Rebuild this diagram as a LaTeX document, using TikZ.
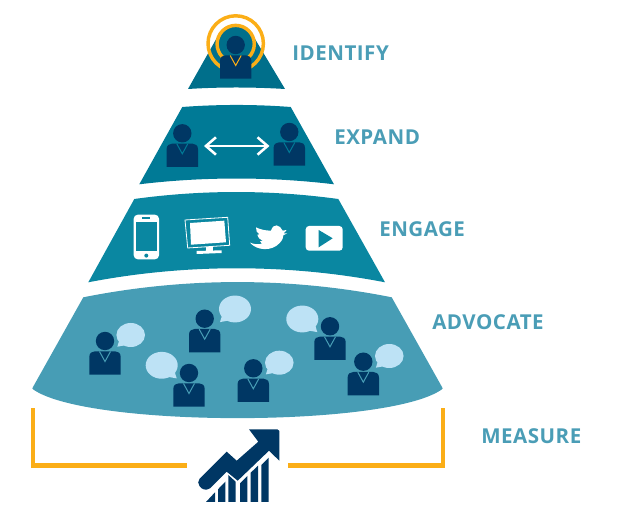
\documentclass[tikz,border=0pt]{standalone}
\usepackage{fontspec}
\usetikzlibrary{arrows.meta}
\newfontfamily\labfont[LetterSpace=2.5]{Open Sans}
\definecolor{navy}{HTML}{003764}
\definecolor{orangeb}{HTML}{FBAE17}
\definecolor{labc}{HTML}{4A9DB6}
\definecolor{tA}{HTML}{006F8B}
\definecolor{tB}{HTML}{007A96}
\definecolor{tC}{HTML}{0A87A1}
\definecolor{tD}{HTML}{479DB5}
\definecolor{bub}{HTML}{BDE2F5}
\tikzset{
  stagelabel/.style={anchor=west,inner sep=0pt,text=labc,font=\labfont\bfseries\fontsize{15.4}{17}\selectfont},
  ring/.style={draw=orangeb,line width=2.6pt},
  bracket/.style={draw=orangeb,line width=3.3pt,miter limit=10},
  iconwhite/.style={fill=white}
}
\newcommand\personfig[3]{%
  \begin{scope}[shift={(#1,#2)}]
    \fill[navy] (0,0) circle[radius=9.2];
    \fill[navy] (-15.7,33.7) -- (-15.7,16) .. controls (-15.7,12) and (-13,10.3) .. (-10,10.3)
      -- (10,10.3) .. controls (13,10.3) and (15.7,12) .. (15.7,16) -- (15.7,33.7) -- cycle;
    \draw[#3,line width=0.75pt] (-5.5,10.5) -- (0,20.5) -- (5.5,10.5);
  \end{scope}}
\newcommand\bubblefig[4]{%
  \begin{scope}[shift={(#1,#2)},xscale=#3*#4,yscale=#3]
    \fill[bub] (0,0) ellipse[x radius=14.3,y radius=12];
    \fill[bub] (-11,4) -- (-13.4,11.7) -- (-4,10) -- cycle;
  \end{scope}}
\begin{document}
\begin{tikzpicture}[x=0.75pt,y=-0.75pt]
\useasboundingbox (0,0) rectangle (619,516);
% tiers
\fill[tA] (188,89) -- (219,34) -- (252,34) -- (285,89) .. controls (252,87) and (220,87) .. (188,89) -- cycle;
\fill[tA] (235.7,44) circle[radius=19];
\fill[tB] (182.3,107) .. controls (218,104.3) and (255,104.3) .. (290.7,107) -- (334,184.3)
  .. controls (270,176.6) and (203,176.6) .. (139.3,184.3) -- cycle;
\fill[tC] (134.3,199) .. controls (202,189.7) and (270,189.7) .. (338.3,199) -- (385,282.3)
  .. controls (288,263.6) and (185,263.6) .. (88.3,282.3) -- cycle;
\fill[tD] (83.3,297.3) .. controls (185,277) and (290,277) .. (391.7,297.3) -- (442,387)
  .. controls (443,388) and (443,389) .. (441,390)
  .. controls (385,427.5) and (90,427.5) .. (34,390)
  .. controls (32,389) and (32,388) .. (33,387) -- cycle;
% rings
\draw[ring] (235.7,43.5) circle[radius=27.7];
\draw[ring] (235.7,44) circle[radius=18.6];
% people
\personfig{235.7}{45}{orangeb}
\personfig{182.3}{133.3}{tB}
\personfig{289.3}{132}{tB}
\personfig{105}{341}{tD}
\personfig{204.7}{318.7}{tD}
\personfig{330}{326.3}{tD}
\personfig{189}{373}{tD}
\personfig{253.3}{368.3}{tD}
\personfig{363.3}{361.7}{tD}
% bubbles
\bubblefig{130.7}{335}{1}{1}
\bubblefig{235}{309}{1.12}{1}
\bubblefig{302.3}{319}{1.12}{-1}
\bubblefig{161.7}{365.3}{1.12}{-1}
\bubblefig{279.3}{362.7}{1}{1}
\bubblefig{389.3}{356}{1}{1}
% double arrow
\coordinate (arrowL) at (204,146);
\coordinate (arrowR) at (269.5,146);
\draw[white,line width=1.9pt,{Straight Barb[length=7.5pt,width=13pt]}-{Straight Barb[length=7.5pt,width=13pt]}] (arrowL) -- (arrowR);
% phone
\fill[iconwhite,rounded corners=3pt] (133.7,214.7) rectangle (159,259.3);
\fill[tC] (136.3,222) rectangle (156.7,251.3);
\fill[tC] (142.3,217.5) rectangle (150.3,219);
\fill[tC] (146.3,255.6) circle[radius=2];
% monitor
\draw[white,line width=0.6pt] (185,220) -- (227.7,217.3) -- (229.7,245.3) -- (187.7,248) -- cycle;
\fill[iconwhite] (190,223) -- (224.3,220.7) -- (226,242.3) -- (191,244.7) -- cycle;
\fill[iconwhite] (205.7,247) rectangle (212.7,251.5);
\fill[iconwhite] (196.7,251) -- (221.7,250.3) -- (221.7,253) -- (196.7,254) -- cycle;
% bird
\begin{scope}[shift={(240,210)},x=0.25pt,y=-0.25pt]
\fill[white] (30,98) .. controls (50,122) and (95,125) .. (118,100)
  .. controls (128,90) and (130,82) .. (130,76) -- (142,70) -- (131,70) -- (140,60) -- (128,62)
  .. controls (120,44) and (100,38) .. (93,62)
  .. controls (75,62) and (60,58) .. (48,52)
  .. controls (48,62) and (50,68) .. (58,73) -- (52,74)
  .. controls (55,85) and (62,90) .. (68,92) -- (60,94)
  .. controls (62,98) and (64,100) .. (66,101)
  .. controls (55,104) and (42,103) .. (30,98) -- cycle;
\end{scope}
% video
\fill[iconwhite,rounded corners=2.5pt] (305.7,226) rectangle (342.7,250.7);
\fill[tC] (318.7,230) -- (332.7,238.3) -- (318.7,247.3) -- cycle;
% bracket
\draw[bracket] (32.7,408.3) -- (32.7,465.7) -- (186.7,465.7);
\draw[bracket] (442.7,408.3) -- (442.7,465.7) -- (288,465.7);
% chart
\fill[navy] (249,429.3) -- (277.5,429.3) .. controls (278.8,429.3) and (279.3,430) .. (279.3,431)
  -- (279.3,460.7) -- (269,450.7) -- (237.7,480.7) -- (226.7,471.7) -- (210,488.3)
  .. controls (206,491) and (201.5,489.5) .. (199.5,486) .. controls (197.8,483.5) and (197.8,481) .. (199.5,479)
  -- (226.7,451.7) -- (236.7,460.7) -- (258.3,441.7) -- cycle;
\fill[navy] (206,502) -- (215,492.3) -- (215,502) -- cycle;
\fill[navy] (218,489.3) -- (225.3,481.7) -- (225.3,502) -- (218,502) -- cycle;
\fill[navy] (228.3,475) -- (235.7,481.7) -- (235.7,502) -- (228.3,502) -- cycle;
\fill[navy] (240,483.3) -- (247.3,476) -- (247.3,502) -- (240,502) -- cycle;
\fill[navy] (250.7,472.7) -- (258,465.7) -- (258,502) -- (250.7,502) -- cycle;
\fill[navy] (261.3,465) -- (268.7,457.7) -- (268.7,502) -- (261.3,502) -- cycle;
% labels
\node[stagelabel] (identify) at (292,53) {IDENTIFY};
\node[stagelabel] (expand) at (334,137) {EXPAND};
\node[stagelabel] (engage) at (379,229) {ENGAGE};
\node[stagelabel] (advocate) at (432,322) {ADVOCATE};
\node[stagelabel] (measure) at (481,436) {MEASURE};
\end{tikzpicture}
\end{document}
